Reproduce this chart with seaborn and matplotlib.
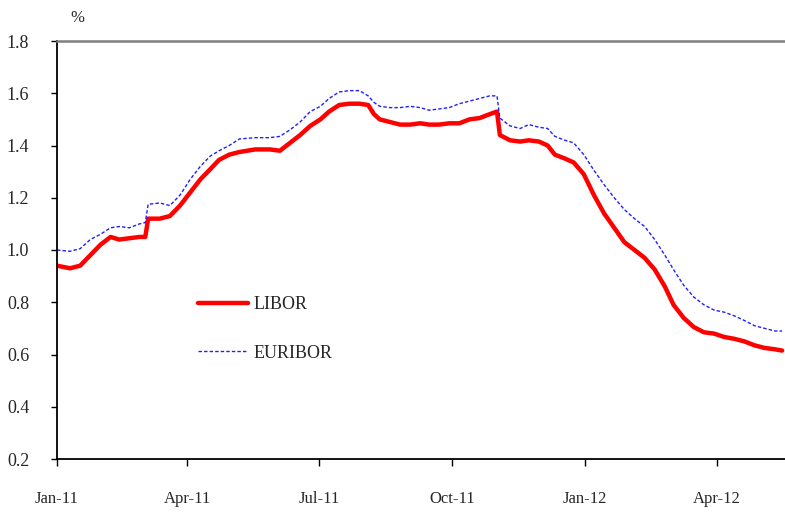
import matplotlib
matplotlib.use("Agg")
import matplotlib.pyplot as plt
import seaborn as sns
import pandas as pd
from matplotlib.lines import Line2D

dates = [
    "2011-01-01", "2011-01-10", "2011-01-17", "2011-01-24", "2011-01-31", "2011-02-07",
    "2011-02-13", "2011-02-20", "2011-02-27", "2011-03-03", "2011-03-05", "2011-03-13",
    "2011-03-20", "2011-03-27", "2011-04-03", "2011-04-10", "2011-04-17", "2011-04-23",
    "2011-04-30", "2011-05-07", "2011-05-18", "2011-05-28", "2011-06-04", "2011-06-11",
    "2011-06-18", "2011-06-25", "2011-07-02", "2011-07-08", "2011-07-15", "2011-07-22",
    "2011-07-29", "2011-08-04", "2011-08-08", "2011-08-12", "2011-08-19", "2011-08-26",
    "2011-09-02", "2011-09-09", "2011-09-15", "2011-09-22", "2011-09-29", "2011-10-06",
    "2011-10-13", "2011-10-20", "2011-10-27", "2011-11-01", "2011-11-03", "2011-11-10",
    "2011-11-17", "2011-11-23", "2011-11-30", "2011-12-06", "2011-12-11", "2011-12-18",
    "2011-12-24", "2011-12-31", "2012-01-07", "2012-01-14", "2012-01-21", "2012-01-28",
    "2012-02-04", "2012-02-11", "2012-02-18", "2012-02-25", "2012-03-02", "2012-03-09",
    "2012-03-16", "2012-03-23", "2012-03-30", "2012-04-06", "2012-04-13", "2012-04-20",
    "2012-04-27", "2012-05-04", "2012-05-11", "2012-05-16",
]

libor = [
    0.94, 0.93, 0.94, 0.98, 1.02, 1.05,
    1.04, 1.045, 1.05, 1.05, 1.12, 1.12,
    1.13, 1.17, 1.22, 1.27, 1.31, 1.345,
    1.365, 1.375, 1.385, 1.385, 1.38, 1.41,
    1.44, 1.475, 1.50, 1.53, 1.555, 1.56,
    1.56, 1.555, 1.52, 1.50, 1.49, 1.48,
    1.48, 1.485, 1.48, 1.48, 1.485, 1.485,
    1.50, 1.505, 1.52, 1.53, 1.44, 1.42,
    1.415, 1.42, 1.415, 1.40, 1.365, 1.35,
    1.335, 1.29, 1.21, 1.14, 1.085, 1.03,
    1.00, 0.97, 0.925, 0.86, 0.79, 0.74,
    0.705, 0.685, 0.68, 0.667, 0.66, 0.65,
    0.635, 0.625, 0.62, 0.615,
]

euribor = [
    1.00, 0.995, 1.005, 1.04, 1.06, 1.085,
    1.09, 1.085, 1.10, 1.105, 1.175, 1.18,
    1.17, 1.21, 1.27, 1.32, 1.36, 1.38,
    1.40, 1.425, 1.43, 1.43, 1.435, 1.46,
    1.49, 1.53, 1.55, 1.58, 1.605, 1.61,
    1.61, 1.59, 1.565, 1.55, 1.545, 1.545,
    1.55, 1.545, 1.535, 1.54, 1.545, 1.56,
    1.57, 1.58, 1.59, 1.59, 1.505, 1.475,
    1.465, 1.48, 1.47, 1.465, 1.435, 1.42,
    1.41, 1.365, 1.305, 1.25, 1.20, 1.155,
    1.12, 1.09, 1.04, 0.98, 0.925, 0.865,
    0.82, 0.79, 0.77, 0.762, 0.748, 0.73,
    0.71, 0.70, 0.69, 0.69,
]

series_names = ["LIBOR", "EURIBOR"]
xtick_dates = ["2011-01-01", "2011-04-01", "2011-07-01", "2011-10-01", "2012-01-01", "2012-04-01"]
xtick_labels = ["Jan-11", "Apr-11", "Jul-11", "Oct-11", "Jan-12", "Apr-12"]
yticks = [0.2, 0.4, 0.6, 0.8, 1.0, 1.2, 1.4, 1.6, 1.8]

sns.set_style("white")
plt.rcParams["font.family"] = ["Liberation Serif", "DejaVu Serif"]

df = pd.DataFrame({
    "date": pd.to_datetime(dates * 2),
    "value": libor + euribor,
    "series": [series_names[0]] * len(dates) + [series_names[1]] * len(dates),
})

fig = plt.figure(figsize=(7.85, 5.12), dpi=100)
ax = fig.add_axes([57 / 785, 53 / 512, 1 - 57 / 785, 418 / 512])

sns.lineplot(
    data=df, x="date", y="value", hue="series", style="series",
    palette={"LIBOR": "#ff0000", "EURIBOR": "#2020ff"},
    dashes={"LIBOR": "", "EURIBOR": (2.5, 1.5)},
    size="series", sizes={"LIBOR": 3.2, "EURIBOR": 1.0},
    ax=ax, legend=False,
)

ax.set_xlim(pd.Timestamp("2011-01-01"), pd.Timestamp("2012-05-18"))
ax.set_ylim(0.2, 1.8)
ax.set_yticks(yticks)
ax.set_yticklabels([f"{v:.1f}" for v in yticks])
ax.set_xticks(pd.to_datetime(xtick_dates))
ax.set_xticklabels(xtick_labels)
ax.set_xlabel("")
ax.set_ylabel("")

for s in ["left", "bottom"]:
    ax.spines[s].set_color("black")
    ax.spines[s].set_linewidth(1.3)
ax.spines["right"].set_visible(False)
ax.spines["top"].set_color("#7f7f7f")
ax.spines["top"].set_linewidth(1.8)

ax.tick_params(axis="y", direction="out", length=4, width=1, color="black",
               labelsize=13, pad=16, left=True)
ax.tick_params(axis="x", direction="out", length=5, width=1, color="black",
               labelsize=12, pad=18, bottom=True)

handles = [
    Line2D([], [], color="#ff0000", lw=3.2),
    Line2D([], [], color="#2020ff", lw=1.0, linestyle=(0, (2.5, 1.5))),
]
ax.legend(handles, series_names, loc="upper left",
          bbox_to_anchor=(198 / 785, 1 - 296 / 512), bbox_transform=fig.transFigure,
          frameon=False, fontsize=13, handlelength=2.75, handletextpad=0.3,
          labelspacing=1.75, borderpad=0, borderaxespad=0)

fig.text(77 / 785, 1 - 18 / 512, "%", ha="center", va="center", fontsize=12)

fig.savefig("out.png", dpi=100)
